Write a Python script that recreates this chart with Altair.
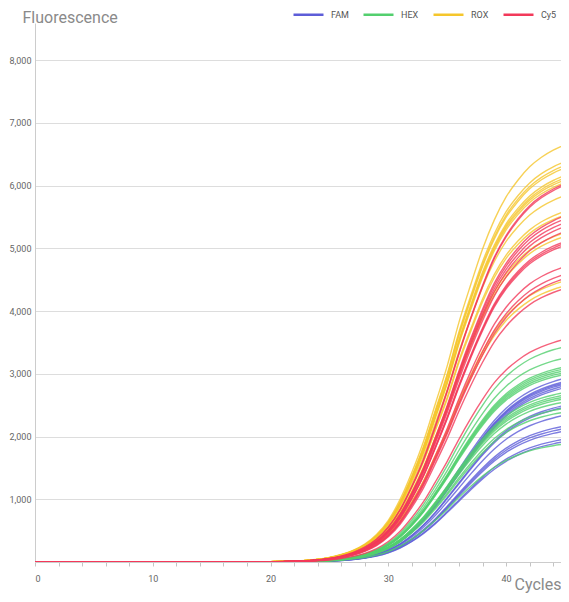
import altair as alt
import pandas as pd

# ---- data ----
cycles = list(range(46))
dyes = ["FAM", "HEX", "ROX", "Cy5"]
dye_colors = ["#5d5dd8", "#53cf6e", "#f5c62c", "#f2395a"]

# fluorescence reached at cycle 45 for each well
fam_plateaus = [2930, 2880, 2860, 2840, 2810, 2780, 2500, 2470, 2340, 2170, 2130, 2090, 1960, 1920]
hex_plateaus = [3430, 3250, 3110, 3080, 3050, 3020, 2990, 2700, 2660, 2630, 2600, 2550, 2450, 2390, 1880]
rox_plateaus = [6650, 6380, 6320, 6280, 6160, 6120, 6090, 6050, 5840, 5590, 5530, 5250, 5190, 4480, 4400]
cy5_plateaus = [6035, 6010, 5520, 5470, 5410, 5350, 5270, 5110, 5080, 5050, 4710, 4590, 4520, 4360, 3550]

# fraction of the cycle-45 value reached at each cycle (0..45), read per dye
fam_shape = [0] * 18 + [0.0002, 0.0004, 0.0006, 0.001, 0.0016, 0.0026, 0.0043, 0.0072, 0.012, 0.02,
                        0.032, 0.05, 0.077, 0.116, 0.17, 0.238, 0.318, 0.41, 0.505, 0.6,
                        0.69, 0.77, 0.836, 0.888, 0.928, 0.958, 0.981, 1.0]
hex_shape = [0] * 18 + [0.0003, 0.0005, 0.0008, 0.0012, 0.002, 0.0033, 0.0055, 0.009, 0.015, 0.024,
                        0.038, 0.058, 0.089, 0.134, 0.195, 0.268, 0.355, 0.448, 0.548, 0.642,
                        0.728, 0.803, 0.862, 0.907, 0.942, 0.967, 0.986, 1.0]
rox_shape = [0] * 18 + [0.0004, 0.0007, 0.001, 0.0015, 0.0025, 0.004, 0.0065, 0.011, 0.018, 0.028,
                        0.043, 0.066, 0.10, 0.15, 0.215, 0.29, 0.38, 0.47, 0.575, 0.665,
                        0.75, 0.82, 0.875, 0.915, 0.947, 0.97, 0.987, 1.0]
cy5_shape = [0] * 18 + [0.0003, 0.0005, 0.0008, 0.0012, 0.002, 0.0033, 0.0055, 0.0093, 0.0155, 0.025,
                        0.039, 0.06, 0.092, 0.138, 0.2, 0.272, 0.36, 0.452, 0.552, 0.645,
                        0.73, 0.805, 0.862, 0.906, 0.941, 0.966, 0.985, 1.0]

groups = [
    ("FAM", fam_plateaus, fam_shape),
    ("HEX", hex_plateaus, hex_shape),
    ("ROX", rox_plateaus, rox_shape),
    ("Cy5", cy5_plateaus, cy5_shape),
]

rows = []
for dye, plats, shape in groups:
    for i, p in enumerate(plats):
        for c in cycles:
            rows.append({"dye": dye, "well": f"{dye}-{i}", "cycle": c, "value": round(p * shape[c], 1)})
df = pd.DataFrame(rows)

x_ticks = list(range(0, 45, 2))
y_ticks = list(range(1000, 8001, 1000))

base = alt.Chart(df).mark_line(strokeWidth=1.4, opacity=0.8, interpolate="monotone", clip=True).encode(
    x=alt.X("cycle:Q",
            scale=alt.Scale(domain=[0, 44.66], nice=False, zero=False),
            axis=alt.Axis(values=x_ticks,
                          labelExpr="datum.value % 10 == 0 ? datum.label : ''",
                          grid=False, tickSize=4, tickColor="#c4c4c4", domainColor="#cccccc",
                          labelFontSize=9, labelColor="#666666", labelPadding=8,
                          title="Cycles", titleFontSize=16, titleFontWeight="normal",
                          titleColor="#8a8a8a", titleAlign="right", titleBaseline="alphabetic",
                          titleX=526, titleY=27)),
    y=alt.Y("value:Q",
            scale=alt.Scale(domain=[0, 8590], nice=False),
            axis=alt.Axis(values=y_ticks, format=",d", tickSize=0, labelPadding=4,
                          labelFontSize=9, labelColor="#666666",
                          gridColor="#dddddd", domainColor="#cccccc",
                          title="Fluorescence", titleAngle=0, titleAlign="left",
                          titleBaseline="alphabetic", titleX=-13, titleY=-0.8,
                          titleFontSize=16, titleFontWeight="normal", titleColor="#8a8a8a")),
    color=alt.Color("dye:N",
                    scale=alt.Scale(domain=dyes, range=dye_colors),
                    legend=alt.Legend(title=None, orient="none", legendX=257, legendY=-25,
                                      direction="horizontal", columns=4,
                                      symbolType="stroke", symbolSize=900, symbolStrokeWidth=2.5,
                                      symbolOpacity=1,
                                      labelFontSize=9, labelColor="#555555", labelOffset=6,
                                      columnPadding=9)),
    detail="well:N",
)

chart = alt.layer(*[base.transform_filter(alt.datum.dye == d) for d in dyes]).properties(
    width=526, height=539,
    autosize=alt.AutoSizeParams(type="none"),
    padding={"left": 27, "top": 15, "right": 0, "bottom": 32},
).configure(font="Roboto").configure_view(stroke=None)

chart.save("out.html", embed_options={"renderer": "svg", "actions": False})
